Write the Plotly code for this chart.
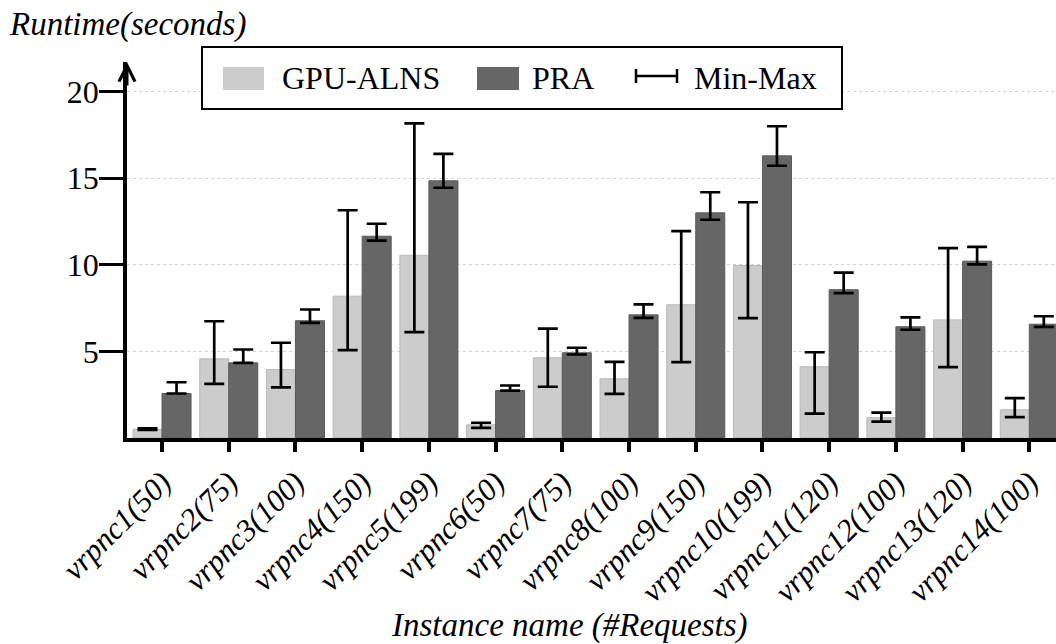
import plotly.graph_objects as go

categories = ["vrpnc1(50)", "vrpnc2(75)", "vrpnc3(100)", "vrpnc4(150)", "vrpnc5(199)",
              "vrpnc6(50)", "vrpnc7(75)", "vrpnc8(100)", "vrpnc9(150)", "vrpnc10(199)",
              "vrpnc11(120)", "vrpnc12(100)", "vrpnc13(120)", "vrpnc14(100)"]

gpu_mean = [0.50, 4.57, 3.95, 8.19, 10.55, 0.76, 4.63, 3.42, 7.69, 9.96, 4.11, 1.17, 6.82, 1.63]
gpu_min = [0.47, 3.13, 2.92, 5.07, 6.11, 0.59, 2.96, 2.55, 4.38, 6.92, 1.41, 0.95, 4.09, 1.20]
gpu_max = [0.55, 6.74, 5.50, 13.15, 18.16, 0.88, 6.32, 4.40, 11.94, 13.61, 4.95, 1.47, 10.96, 2.30]

pra_mean = [2.57, 4.34, 6.77, 11.65, 14.85, 2.74, 4.92, 7.11, 13.00, 16.29, 8.56, 6.42, 10.21, 6.57]
pra_min = [2.57, 4.34, 6.65, 11.40, 14.45, 2.74, 4.82, 6.94, 12.60, 15.72, 8.36, 6.25, 10.02, 6.42]
pra_max = [3.22, 5.11, 7.42, 12.37, 16.41, 3.03, 5.21, 7.71, 14.19, 18.00, 9.55, 6.96, 11.04, 7.03]

y_ticks = [5, 10, 15, 20]

FONT = "Liberation Serif"
W, H = 1056, 644
L, R, T, B = 127, 0, 62, 206
PW, PH = W - L - R, H - T - B


def px(x):
    return (x - L) / PW


def py(y):
    return (H - B - y) / PH


def err(mean, lo, hi):
    return dict(type="data", symmetric=False,
                array=[h - m for m, h in zip(mean, hi)],
                arrayminus=[m - l for m, l in zip(mean, lo)],
                color="black", thickness=2.7, width=10)


fig = go.Figure()
fig.add_trace(go.Bar(x=categories, y=gpu_mean, name="GPU-ALNS",
                     marker=dict(color="#cccccc", line=dict(color="#b8b8b8", width=1)),
                     error_y=err(gpu_mean, gpu_min, gpu_max), showlegend=False))
fig.add_trace(go.Bar(x=categories, y=pra_mean, name="PRA",
                     marker=dict(color="#666666", line=dict(color="#5a5a5a", width=1)),
                     error_y=err(pra_mean, pra_min, pra_max), showlegend=False))

fig.update_layout(
    width=W, height=H,
    margin=dict(l=L, r=R, t=T, b=B, pad=0),
    paper_bgcolor="white", plot_bgcolor="white",
    barmode="group", bargap=0.13, bargroupgap=0,
    font=dict(family=FONT, size=32, color="black"),
    showlegend=False,
)
fig.update_xaxes(
    range=[-0.525, 13.4],
    showline=True, linecolor="black", linewidth=3.5,
    ticks="outside", ticklen=10, tickwidth=3.5, tickcolor="black",
    tickangle=-45, tickfont=dict(family=FONT, size=31, style="italic"),
    showgrid=False, zeroline=False, automargin=False,
)
fig.update_yaxes(
    range=[0, PH / 17.32],
    tickvals=y_ticks, ticktext=[str(v) for v in y_ticks],
    showline=True, linecolor="black", linewidth=3.5,
    ticks="outside", ticklen=24, tickwidth=3, tickcolor="black",
    tickfont=dict(family=FONT, size=32), ticklabelstandoff=-6,
    showgrid=True, gridcolor="#d4d4d4", gridwidth=1, griddash="dot",
    zeroline=False, automargin=False,
)

shapes = []
annotations = []

# axis arrow at top of y axis
annotations.append(dict(xref="paper", yref="paper", x=0, y=1.0, ax=0, ay=25,
                        axref="pixel", ayref="pixel", text="", showarrow=True,
                        arrowhead=5, arrowsize=1.05, arrowwidth=3, arrowcolor="black"))

# legend box
shapes.append(dict(type="rect", xref="paper", yref="paper", x0=px(202), x1=px(842),
                   y0=py(109), y1=py(47), line=dict(color="black", width=2),
                   fillcolor="white", layer="above"))
shapes.append(dict(type="rect", xref="paper", yref="paper", x0=px(223), x1=px(264),
                   y0=py(90), y1=py(67), line=dict(width=0), fillcolor="#cccccc", layer="above"))
shapes.append(dict(type="rect", xref="paper", yref="paper", x0=px(477), x1=px(519),
                   y0=py(90), y1=py(67), line=dict(width=0), fillcolor="#666666", layer="above"))
for (x0, y0, x1, y1) in [(636, 76, 677, 76), (636, 69, 636, 83), (677, 69, 677, 83)]:
    shapes.append(dict(type="line", xref="paper", yref="paper", x0=px(x0), x1=px(x1),
                       y0=py(y0), y1=py(y1), line=dict(color="black", width=2.5), layer="above"))
for text, x in [("GPU-ALNS", 280), ("PRA", 530), ("Min-Max", 692)]:
    annotations.append(dict(xref="paper", yref="paper", x=px(x), y=py(78), text=text,
                            showarrow=False, xanchor="left", yanchor="middle",
                            font=dict(family=FONT, size=32)))

# axis titles
annotations.append(dict(xref="paper", yref="paper", x=px(7), y=py(24), text="Runtime(seconds)",
                        showarrow=False, xanchor="left", yanchor="middle",
                        font=dict(family=FONT, size=33, style="italic")))
annotations.append(dict(xref="paper", yref="paper", x=px(569), y=py(625),
                        text="Instance name (#Requests)",
                        showarrow=False, xanchor="center", yanchor="middle",
                        font=dict(family=FONT, size=33, style="italic")))

fig.update_layout(shapes=shapes, annotations=annotations)
fig.write_html("out.html", config={"displayModeBar": False},
               post_script="document.body.style.margin='0';document.body.style.overflow='hidden';")
